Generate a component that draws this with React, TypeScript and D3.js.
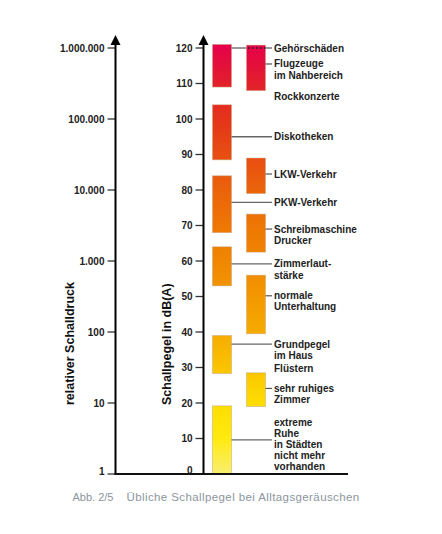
import React from "react";
import * as d3 from "d3";

const dbTicks = [0, 10, 20, 30, 40, 50, 60, 70, 80, 90, 100, 110, 120];
const relTicks = [1, 10, 100, 1000, 10000, 100000, 1000000];

// bars: column 0 (left) and column 1 (right), dB ranges
const barColumn = [0, 0, 0, 0, 0, 0, 1, 1, 1, 1, 1];
const barLow = [109, 88.5, 68, 53, 28.3, 0, 108, 79, 62.5, 39.5, 19];
const barHigh = [121, 104, 84, 64, 39, 19.2, 120.8, 89, 73.2, 56, 28.5];

// labels
const labelLines = [
  ["Gehörschäden"],
  ["Flugzeuge", "im Nahbereich"],
  ["Rockkonzerte"],
  ["Diskotheken"],
  ["LKW-Verkehr"],
  ["PKW-Verkehr"],
  ["Schreibmaschine", "Drucker"],
  ["Zimmerlaut-", "stärke"],
  ["normale", "Unterhaltung"],
  ["Grundpegel", "im Haus"],
  ["Flüstern"],
  ["sehr ruhiges", "Zimmer"],
  ["extreme", "Ruhe", "in Städten", "nicht mehr", "vorhanden"],
];
const labelDb = [120, 115.5, 106.3, 95, 84.5, 76.5, 69, 59.2, 50.2, 36.6, 29.6, 24.1, 14.6];
const linkType = ["longDotted", "short", "none", "long", "short", "long", "short", "long", "short", "long", "none", "short", "long"];
const linkDb = [120, 115.5, 0, 95, 84.5, 76.5, 69, 59.2, 50.2, 36.6, 0, 24.1, 9.6];

const gradDb = [121, 110, 100, 90, 80, 70, 60, 50, 40, 30, 20, 10, 0];
const gradColor = ["#e5004b", "#e31f2c", "#e4341a", "#e74d12", "#eb630b", "#ee7604", "#f08700", "#f39800", "#f6aa00", "#fac300", "#fddd00", "#ffea10", "#f9ee70"];

const locale = d3.formatLocale({ decimal: ",", thousands: ".", grouping: [3], currency: ["", "€"] });
const fmt = locale.format(",");

export default function App() {
  const W = 442, H = 534;
  const y = d3.scaleLinear().domain([0, 120]).range([474, 48]);
  const yRel = d3.scaleLog().domain([1, 1e6]).range([474, 48]);
  const axL = 115.5, axR = 203.5;
  const colX = [212.5, 246.5];
  const barW = 19;
  const labelX = 274;
  const lineH = 11.2;
  const font = "'Liberation Sans', Arial, sans-serif";

  return (
    <div style={{ position: "fixed", left: 0, top: 0, width: W, height: H, background: "#fff" }}>
      <svg width={W} height={H} style={{ display: "block" }} fontFamily={font}>
        <defs>
          <linearGradient id="lvl" gradientUnits="userSpaceOnUse" x1={0} x2={0} y1={y(121)} y2={y(0)}>
            {gradDb.map((d, i) => (
              <stop key={i} offset={(121 - d) / 121} stopColor={gradColor[i]} />
            ))}
          </linearGradient>
        </defs>

        {/* bars */}
        {barLow.map((lo, i) => (
          <rect
            key={i}
            x={colX[barColumn[i]]}
            y={y(barHigh[i])}
            width={barW}
            height={y(lo) - y(barHigh[i])}
            fill="url(#lvl)"
            stroke="#c9a27a"
            strokeOpacity={0.6}
            strokeWidth={0.8}
          />
        ))}

        {/* connectors */}
        {linkType.map((t, i) => {
          if (t === "none") return null;
          const yy = y(linkDb[i]);
          if (t === "short")
            return <line key={i} x1={colX[1] + barW} x2={labelX - 2} y1={yy} y2={yy} stroke="#555" strokeWidth={1.2} />;
          if (t === "long")
            return <line key={i} x1={colX[0] + barW} x2={labelX - 2} y1={yy} y2={yy} stroke="#666" strokeWidth={1.3} />;
          return (
            <g key={i}>
              <line x1={colX[0] + barW} x2={colX[1]} y1={yy} y2={yy} stroke="#555" strokeWidth={1.2} />
              <line x1={colX[1] + 1.5} x2={colX[1] + barW} y1={yy} y2={yy} stroke="#222" strokeWidth={1.4} strokeDasharray="1.5,2.5" />
              <line x1={colX[1] + barW} x2={labelX - 2} y1={yy} y2={yy} stroke="#555" strokeWidth={1.2} />
            </g>
          );
        })}

        {/* labels */}
        {labelLines.map((lines, i) => (
          <text key={i} x={labelX} y={y(labelDb[i])} fontSize={10} fontWeight="bold" fill="#222">
            {lines.map((l, j) => (
              <tspan key={j} x={labelX} dy={j === 0 ? "0.35em" : lineH}>
                {l}
              </tspan>
            ))}
          </text>
        ))}

        {/* left axis */}
        {relTicks.map((t) => (
          <g key={t}>
            <line x1={axL - 8} x2={axL} y1={yRel(t)} y2={yRel(t)} stroke="#333" strokeWidth={1.3} />
            <text
              x={axL - 11}
              y={yRel(t) - (t === 1 ? 3 : 0)}
              dy="0.35em"
              textAnchor="end"
              fontSize={10}
              fontWeight="bold"
              fill="#222"
            >
              {fmt(t)}
            </text>
          </g>
        ))}
        <line x1={axL} x2={axL} y1={y(0) + 1} y2={42} stroke="#000" strokeWidth={2} />
        <path d={`M${axL - 5},${45} L${axL},${35} L${axL + 5},${45} Z`} fill="#000" />

        {/* dB axis */}
        {dbTicks.map((t) => (
          <g key={t}>
            <line x1={axR - 8} x2={axR} y1={y(t)} y2={y(t)} stroke="#333" strokeWidth={1.3} />
            <text
              x={axR - 11}
              y={y(t) - (t === 0 ? 4 : 0)}
              dy="0.35em"
              textAnchor="end"
              fontSize={10}
              fontWeight="bold"
              fill="#222"
            >
              {t}
            </text>
          </g>
        ))}
        <line x1={axR} x2={axR} y1={y(0) + 1} y2={42} stroke="#000" strokeWidth={2} />
        <path d={`M${axR - 5},${45} L${axR},${35} L${axR + 5},${45} Z`} fill="#000" />

        {/* baseline */}
        <line x1={axL - 1} x2={348} y1={y(0)} y2={y(0)} stroke="#111" strokeWidth={2} />

        {/* axis titles */}
        <text transform="translate(74,405) rotate(-90)" fontSize={12.5} fontWeight="bold" fill="#111">
          relativer Schalldruck
        </text>
        <text transform="translate(171,405) rotate(-90)" fontSize={12.5} fontWeight="bold" fill="#111">
          Schallpegel in dB(A)
        </text>

        {/* caption */}
        <text x={72.5} y={497} dy="0.35em" fontSize={11} fill="#8c959d">
          Abb. 2/5
        </text>
        <text x={126.5} y={497} dy="0.35em" fontSize={11.5} letterSpacing={0.4} fill="#8c959d">
          Übliche Schallpegel bei Alltagsgeräuschen
        </text>
      </svg>
    </div>
  );
}
